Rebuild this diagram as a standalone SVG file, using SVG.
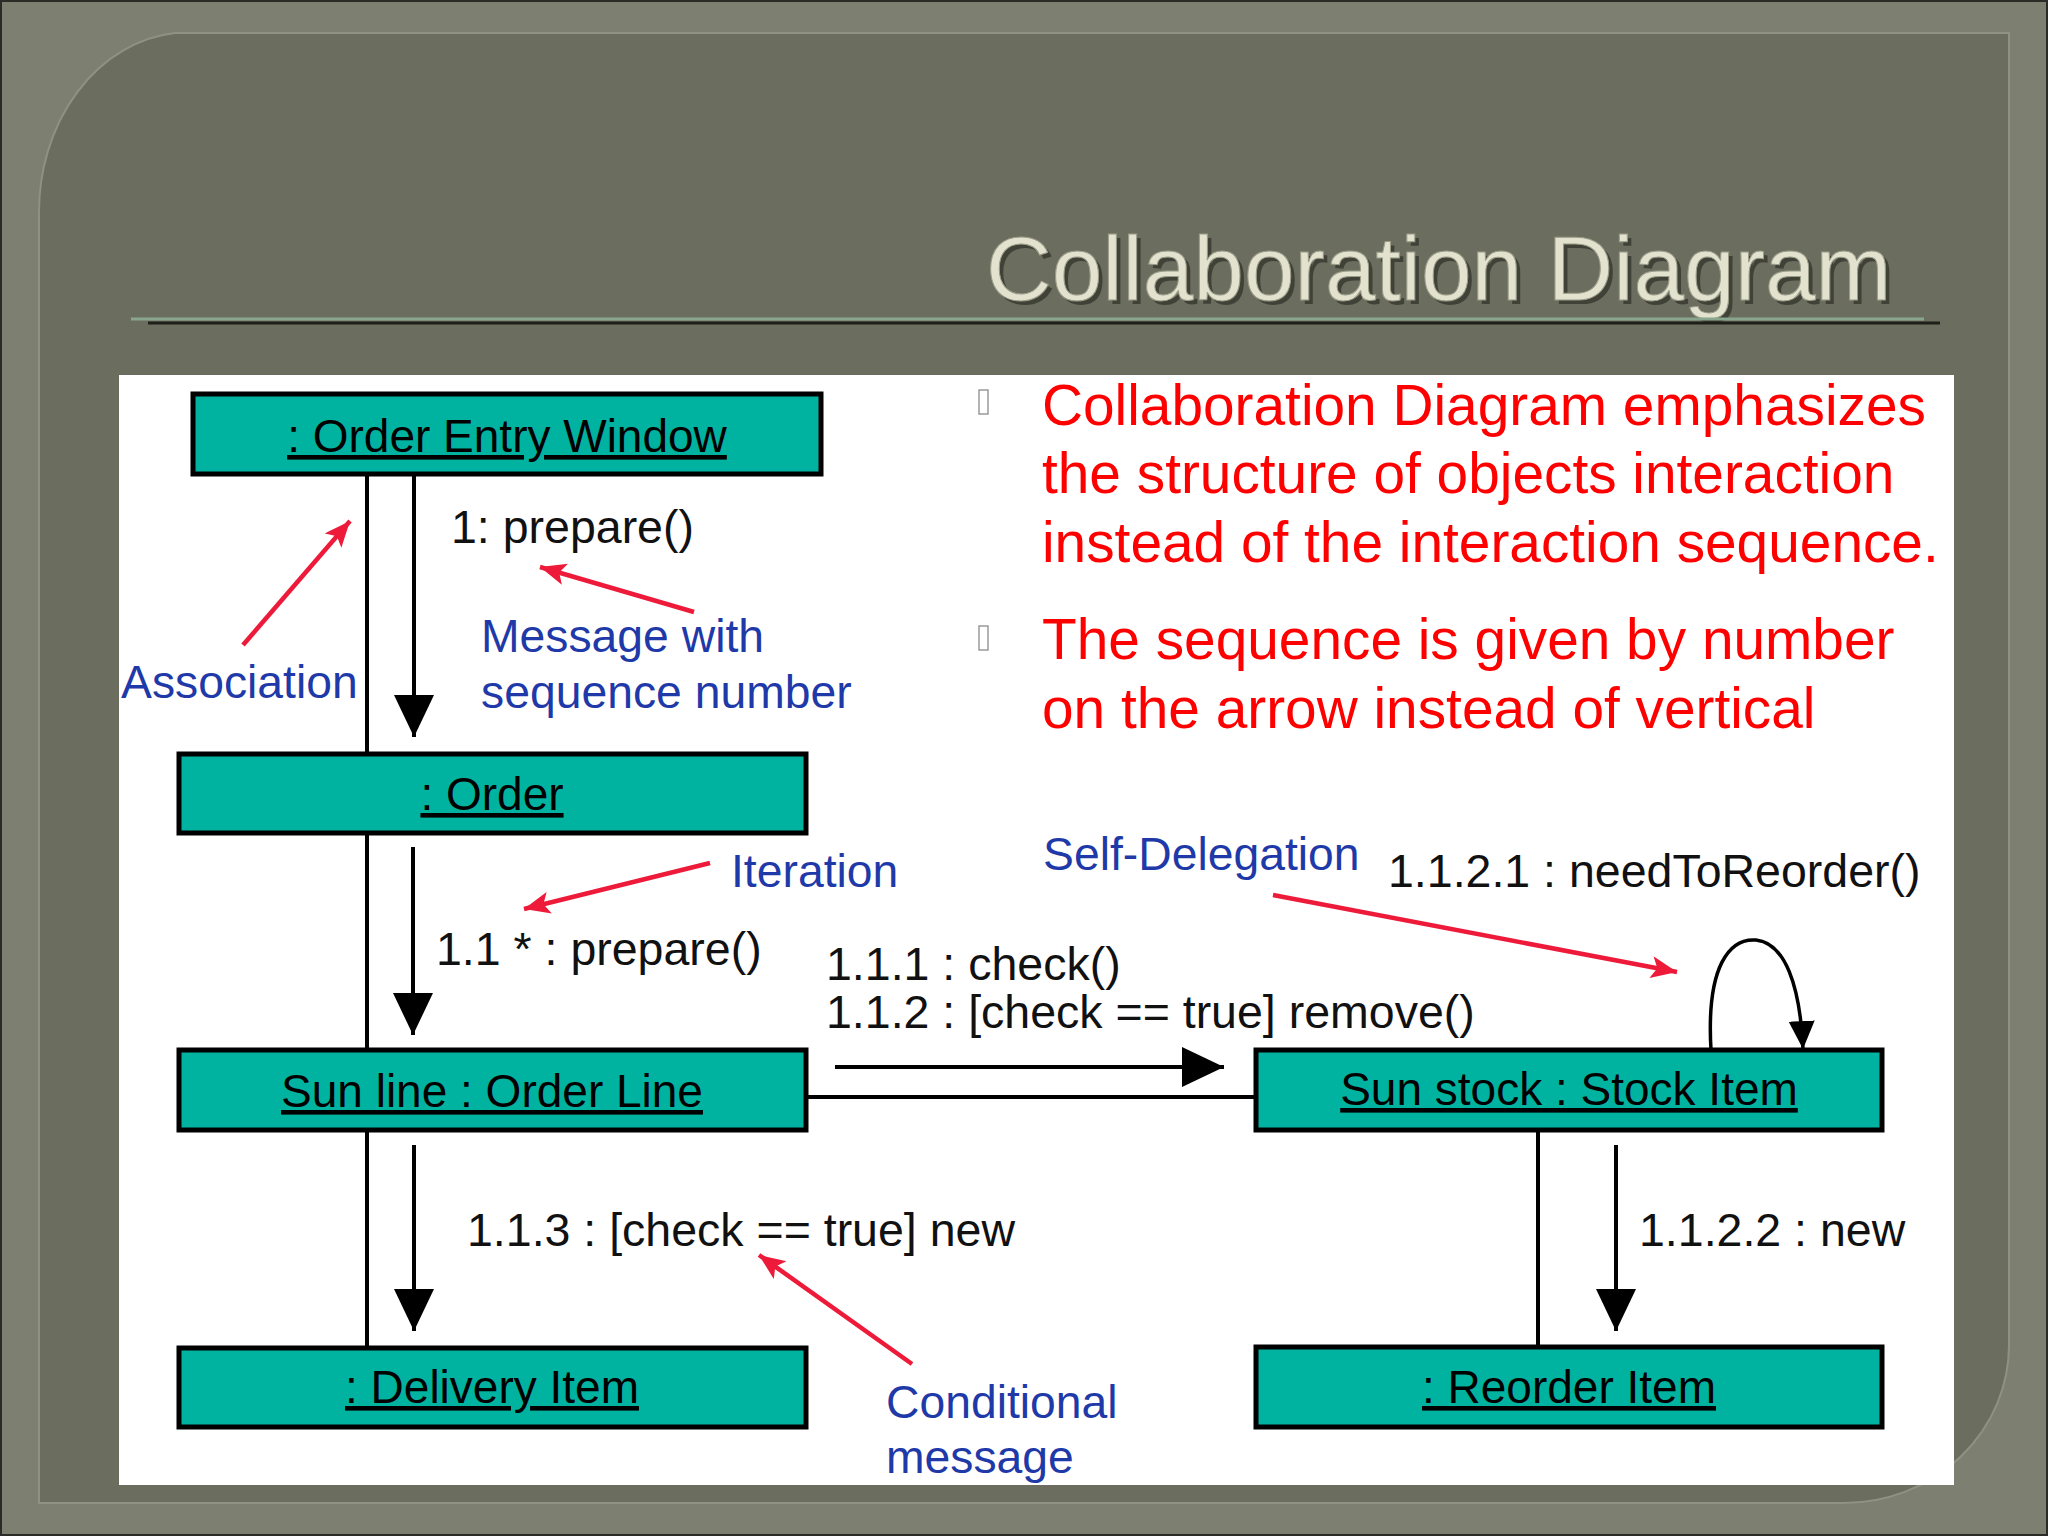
<svg xmlns="http://www.w3.org/2000/svg" width="2048" height="1536" viewBox="0 0 2048 1536">
<defs>
<style>
.node rect{fill:#00b3a1;stroke:#000;stroke-width:5}
.node text{font-family:"Liberation Sans",Arial,sans-serif;font-size:46px;fill:#000;text-anchor:middle;text-decoration:underline}
.lbl{font-family:"Liberation Sans",Arial,sans-serif;font-size:46.5px;fill:#111}
.note{font-family:"Liberation Sans",Arial,sans-serif;font-size:46.3px;fill:#1f3aa8}
.bul{font-family:"Liberation Sans",Arial,sans-serif;font-size:56.8px;fill:#ff0000}
.assoc{stroke:#000;stroke-width:4;fill:none}
.msg{stroke:#000;stroke-width:4;fill:none;marker-end:url(#blk)}
.red{stroke:#ee1a3a;stroke-width:4.5;fill:none;marker-end:url(#redh)}
</style>
<marker id="blk" markerUnits="userSpaceOnUse" markerWidth="44" markerHeight="42" refX="42" refY="20" orient="auto">
<path d="M0,0 L42,20 L0,40 Z" fill="#000"/>
</marker>
<marker id="small" markerUnits="userSpaceOnUse" markerWidth="30" markerHeight="28" refX="28" refY="13" orient="auto">
<path d="M0,0 L28,13 L0,26 Z" fill="#000"/>
</marker>
<marker id="redh" markerUnits="userSpaceOnUse" markerWidth="30" markerHeight="24" refX="26" refY="11" orient="auto">
<path d="M0,0 L26,11 L0,22 L6,11 Z" fill="#ee1a3a"/>
</marker>
</defs>

<g id="background">
<rect x="0" y="0" width="2048" height="1536" fill="#7d7f71"/>
<rect x="1" y="1" width="2046" height="1534" fill="none" stroke="#2b2c25" stroke-width="2"/>
<path d="M39,215 A150,180 0 0 1 175,33 L2009,33 L2009,1345 A165,158 0 0 1 1844,1503 L39,1503 Z" fill="#6b6e5f" stroke="#8f9282" stroke-width="2"/>
</g>

<g id="title">
<text x="990" y="304" font-family="Liberation Sans,Arial,sans-serif" font-size="91" fill="#2e3027" opacity="0.7">Collaboration Diagram</text>
<text x="986" y="300" font-family="Liberation Sans,Arial,sans-serif" font-size="91" fill="#e2e2cf" stroke="#9a9c88" stroke-width="1">Collaboration Diagram</text>
<line x1="131" y1="319" x2="1924" y2="319" stroke="#8aa58e" stroke-width="3"/>
<line x1="148" y1="323" x2="1940" y2="323" stroke="#1e1f19" stroke-width="3"/>
</g>

<rect id="panel" x="119" y="375" width="1835" height="1110" fill="#ffffff"/>

<g id="bullets">
<rect x="979" y="390" width="9" height="24" fill="none" stroke="#9a9a9a" stroke-width="1.5"/>
<rect x="979" y="626" width="9" height="24" fill="none" stroke="#9a9a9a" stroke-width="1.5"/>
<text class="bul" x="1042" y="425">Collaboration Diagram emphasizes</text>
<text class="bul" x="1042" y="493">the structure of objects interaction</text>
<text class="bul" x="1042" y="562">instead of the interaction sequence.</text>
<text class="bul" x="1042" y="659">The sequence is given by number</text>
<text class="bul" x="1042" y="728">on the arrow instead of vertical</text>
</g>

<g id="connectors">
<line class="assoc" x1="367" y1="475" x2="367" y2="753"/>
<line class="assoc" x1="367" y1="834" x2="367" y2="1049"/>
<line class="assoc" x1="367" y1="1131" x2="367" y2="1347"/>
<line class="assoc" x1="806" y1="1097" x2="1256" y2="1097"/>
<line class="assoc" x1="1538" y1="1131" x2="1538" y2="1346"/>
<line class="msg" x1="414" y1="475" x2="414" y2="737"/>
<line class="msg" x1="413" y1="847" x2="413" y2="1035"/>
<line class="msg" x1="414" y1="1145" x2="414" y2="1331"/>
<line class="msg" x1="835" y1="1067" x2="1224" y2="1067"/>
<line class="msg" x1="1616" y1="1145" x2="1616" y2="1331"/>
<path d="M1711,1050 C1706,965 1730,938 1756,940 C1785,943 1800,985 1803,1049" stroke="#000" stroke-width="3.5" fill="none" marker-end="url(#small)"/>
<line class="red" x1="243" y1="645" x2="350" y2="521"/>
<line class="red" x1="694" y1="612" x2="540" y2="567"/>
<line class="red" x1="710" y1="863" x2="524" y2="909"/>
<line class="red" x1="1273" y1="895" x2="1677" y2="972"/>
<line class="red" x1="912" y1="1364" x2="759" y2="1255"/>
</g>

<g id="node-order-entry-window" class="node">
<rect x="193" y="394" width="628" height="80"/>
<text x="507" y="452">: Order Entry Window</text>
</g>
<g id="node-order" class="node">
<rect x="179" y="754" width="627" height="79"/>
<text x="492" y="810">: Order</text>
</g>
<g id="node-order-line" class="node">
<rect x="179" y="1050" width="627" height="80"/>
<text x="492" y="1107">Sun line : Order Line</text>
</g>
<g id="node-delivery-item" class="node">
<rect x="179" y="1348" width="627" height="79"/>
<text x="492" y="1403">: Delivery Item</text>
</g>
<g id="node-stock-item" class="node">
<rect x="1256" y="1050" width="626" height="80"/>
<text x="1569" y="1105">Sun stock : Stock Item</text>
</g>
<g id="node-reorder-item" class="node">
<rect x="1256" y="1347" width="626" height="80"/>
<text x="1569" y="1403">: Reorder Item</text>
</g>

<g id="labels">
<text class="lbl" x="451" y="543">1: prepare()</text>
<text class="note" x="121" y="698">Association</text>
<text class="note" x="481" y="652">Message with</text>
<text class="note" x="481" y="708">sequence number</text>
<text class="note" x="731" y="887">Iteration</text>
<text class="lbl" x="436" y="965">1.1 * : prepare()</text>
<text class="lbl" x="826" y="980">1.1.1 : check()</text>
<text class="lbl" x="826" y="1028">1.1.2 : [check == true] remove()</text>
<text class="note" x="1043" y="870">Self-Delegation</text>
<text class="lbl" x="1388" y="887">1.1.2.1 : needToReorder()</text>
<text class="lbl" x="467" y="1246">1.1.3 : [check == true] new</text>
<text class="note" x="886" y="1418">Conditional</text>
<text class="note" x="886" y="1473">message</text>
<text class="lbl" x="1639" y="1246">1.1.2.2 : new</text>
</g>
</svg>
